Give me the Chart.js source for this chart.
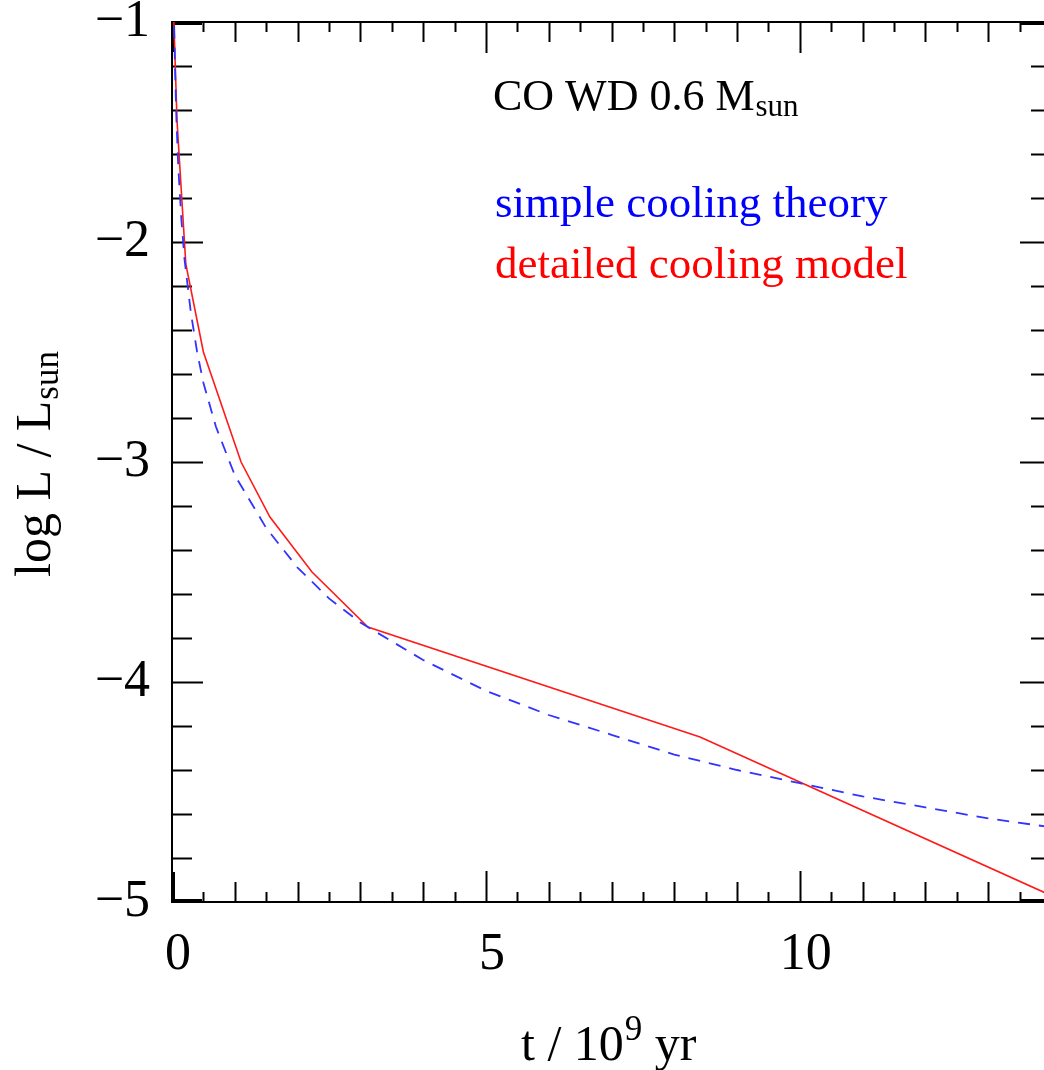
<!DOCTYPE html>
<html>
<head>
<meta charset="utf-8">
<script src="https://cdn.jsdelivr.net/npm/chart.js@4/dist/chart.umd.min.js"></script>
<style>
  html, body { margin: 0; padding: 0; background: #fff; overflow: hidden; }
  #wrap { width: 1044px; height: 1070px; overflow: hidden; position: relative; }
  canvas { display: block; }
</style>
</head>
<body>
<div id="wrap"><canvas id="c" width="1070" height="1070"></canvas></div>
<script>
// detailed cooling model (red, solid) - vertices
const redT = [0.03, 0.08, 0.22, 0.5, 1.1, 1.56, 2.23, 3.12, 8.41, 14]
const redL = [-1.0, -1.45, -2.1, -2.5, -3.0, -3.25, -3.5, -3.75, -4.25, -4.97]

// simple cooling theory (blue, dashed)
const blueT = [0.035, 0.05, 0.07, 0.1, 0.15, 0.2, 0.3, 0.4, 0.5, 0.7, 1.0, 1.5, 2.0, 2.5, 3.0,
               4.0, 5.0, 6.0, 7.0, 8.0, 9.0, 10.0, 11.0, 12.0, 13.0, 14.0]
const blueL = [-1.02, -1.23, -1.44, -1.66, -1.90, -2.08, -2.32, -2.50, -2.64, -2.84, -3.06, -3.30, -3.48, -3.62, -3.73,
               -3.90, -4.04, -4.15, -4.24, -4.33, -4.40, -4.46, -4.52, -4.57, -4.62, -4.66]

const xTickLabels = [0, 5, 10]
const yTickLabels = [-1, -2, -3, -4, -5]

const serif = "'Liberation Serif', 'Times New Roman', serif"

function pts(xs, ys) {
    return xs.map((x, i) => ({x: x, y: ys[i]}))
}

// inward ticks on all four sides + the frame
const frame = {
    id: 'frame',
    beforeDatasetsDraw(chart) {
        const c = chart.ctx
        const a = chart.chartArea
        const xs = chart.scales.x, ys = chart.scales.y
        c.save()
        c.strokeStyle = '#000'
        c.lineWidth = 2
        c.strokeRect(a.left, a.top, a.right - a.left, a.bottom - a.top)
        c.beginPath()
        for (let i = 1; i < 28; i++) {
            const v = i * 0.5
            const px = Math.round(xs.getPixelForValue(v)) + 0.5
            let len = 10
            if (i % 2 === 0) len = 20
            if (i % 10 === 0) len = 31
            c.moveTo(px, a.bottom); c.lineTo(px, a.bottom - len)
            c.moveTo(px, a.top); c.lineTo(px, a.top + len)
        }
        for (let i = 1; i < 20; i++) {
            const v = -1 - i * 0.2
            const py = Math.round(ys.getPixelForValue(v)) + 0.5
            const len = (i % 5 === 0) ? 31 : 20
            c.moveTo(a.left, py); c.lineTo(a.left + len, py)
            c.moveTo(a.right, py); c.lineTo(a.right - len, py)
        }
        c.stroke()
        // heavier bits at the axis ends
        c.lineWidth = 4
        c.beginPath()
        c.moveTo(a.left, a.top + 1); c.lineTo(a.left + 30, a.top + 1)
        c.moveTo(a.right - 30, a.top + 1); c.lineTo(a.right, a.top + 1)
        c.moveTo(a.left, a.bottom - 1); c.lineTo(a.left + 30, a.bottom - 1)
        c.moveTo(a.right - 30, a.bottom - 1); c.lineTo(a.right, a.bottom - 1)
        c.moveTo(a.left + 1, a.top); c.lineTo(a.left + 1, a.top + 30)
        c.moveTo(a.left + 1, a.bottom - 30); c.lineTo(a.left + 1, a.bottom)
        c.stroke()
        c.restore()
    }
}

// texts with sub/superscripts
const texts = {
    id: 'texts',
    afterDraw(chart) {
        const c = chart.ctx
        c.save()
        c.textBaseline = 'alphabetic'
        c.textAlign = 'left'

        c.fillStyle = '#000'
        c.font = '44px ' + serif
        let s = 'CO WD 0.6 M'
        c.fillText(s, 493, 110)
        let w = c.measureText(s).width
        c.font = '31px ' + serif
        c.fillText('sun', 493 + w + 1, 116)

        c.font = '45px ' + serif
        c.fillStyle = '#0000ff'
        c.fillText('simple cooling theory', 495, 217)
        c.fillStyle = '#ff0000'
        c.fillText('detailed cooling model', 495, 278)

        // x title
        c.fillStyle = '#000'
        c.font = '50px ' + serif
        s = 't / 10'
        c.fillText(s, 521, 1060)
        w = c.measureText(s).width
        c.font = '35px ' + serif
        c.fillText('9', 521 + w + 1, 1040)
        let w2 = c.measureText('9').width
        c.font = '50px ' + serif
        c.fillText(' yr', 521 + w + w2 + 1, 1060)

        // y title
        c.translate(50, 577)
        c.rotate(-Math.PI / 2)
        c.font = '50px ' + serif
        s = 'log L / L'
        c.fillText(s, 0, 0)
        w = c.measureText(s).width
        c.font = '35px ' + serif
        c.fillText('sun', w + 1, 8)
        c.restore()
    }
}

new Chart(document.getElementById('c').getContext('2d'), {
    type: 'line',
    data: {
        datasets: [{
            label: 'simple cooling theory',
            data: pts(blueT, blueL),
            borderColor: '#3333ff',
            borderWidth: 1.8,
            borderDash: [12, 9],
            pointRadius: 0,
            tension: 0
        }, {
            label: 'detailed cooling model',
            data: pts(redT, redL),
            borderColor: '#ff1a1a',
            borderWidth: 1.6,
            pointRadius: 0,
            tension: 0
        }]
    },
    options: {
        responsive: false,
        animation: false,
        devicePixelRatio: 1,
        layout: {padding: {top: 22, right: 19, left: 0, bottom: 0}},
        plugins: {legend: {display: false}, tooltip: {enabled: false}},
        scales: {
            x: {
                type: 'linear', min: 0, max: 14,
                grid: {display: false, drawTicks: false},
                border: {display: false},
                ticks: {
                    color: '#000', font: {family: serif, size: 52}, padding: 22, labelOffset: 6,
                    maxRotation: 0, callback: v => String(v)
                },
                afterBuildTicks: s => { s.ticks = xTickLabels.map(v => ({value: v})) },
                afterFit: s => { s.height = 168; s.paddingLeft = 0; s.paddingRight = 0 }
            },
            y: {
                type: 'linear', min: -5, max: -1,
                grid: {display: false, drawTicks: false},
                border: {display: false},
                ticks: {
                    color: '#000', font: {family: serif, size: 52}, padding: 22,
                    callback: v => String(v).replace('-', '\u2212')
                },
                afterBuildTicks: s => { s.ticks = yTickLabels.map(v => ({value: v})) },
                afterFit: s => { s.width = 172; s.paddingTop = 0; s.paddingBottom = 0 }
            }
        }
    },
    plugins: [frame, texts]
})
</script>
</body>
</html>
